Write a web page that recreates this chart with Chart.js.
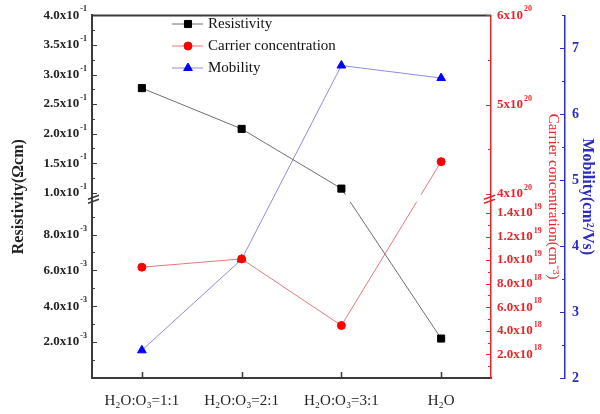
<!DOCTYPE html>
<html lang="en">
<head>
<meta charset="UTF-8">
<title>Resistivity, carrier concentration and mobility</title>
<script src="https://cdn.jsdelivr.net/npm/chart.js"></script>
<style>
  body { margin: 0; background: #fff; }
  #chart { display: block; }
</style>
</head>
<body>
<canvas id="chart" width="600" height="414"></canvas>
<script>
const categories = ['H\u2082O:O\u2083=1:1', 'H\u2082O:O\u2083=2:1', 'H\u2082O:O\u2083=3:1', 'H\u2082O'];
const resistivity = [0.277, 0.208, 0.107, 0.0022];      // Ωcm
const carrier = [9.4e18, 1.01e19, 4.45e18, 4.36e20];     // cm^-3
const mobility = [2.42, 3.80, 6.74, 6.55];               // cm^2/Vs

// tick labels as "mantissa^exponent"
const resTicks = [0.002, 0.004, 0.006, 0.008, 0.10, 0.15, 0.20, 0.25, 0.30, 0.35, 0.40];
const resTickLabels = ['2.0x10^-3', '4.0x10^-3', '6.0x10^-3', '8.0x10^-3', '1.0x10^-1', '1.5x10^-1',
  '2.0x10^-1', '2.5x10^-1', '3.0x10^-1', '3.5x10^-1', '4.0x10^-1'];
const resMinor = [0.001, 0.003, 0.005, 0.007, 0.009, 0.125, 0.175, 0.225, 0.275, 0.325, 0.375];

const carTicks = [2e18, 4e18, 6e18, 8e18, 1.0e19, 1.2e19, 1.4e19, 4e20, 5e20, 6e20];
const carTickLabels = ['2.0x10^18', '4.0x10^18', '6.0x10^18', '8.0x10^18', '1.0x10^19', '1.2x10^19',
  '1.4x10^19', '4x10^20', '5x10^20', '6x10^20'];
const carMinor = [1e18, 3e18, 5e18, 7e18, 9e18, 1.1e19, 1.3e19, 1.5e19, 4.5e20, 5.5e20];

const mobTicks = [2, 3, 4, 5, 6, 7];
const mobMinor = [2.5, 3.5, 4.5, 5.5, 6.5, 7.5];

// broken axes: each piece of the value range gets a slice (0..1) of the axis height
const resPieces = [
  { lo: 0, hi: 0.01, from: 0, to: 0.4945 },
  { lo: 0.09, hi: 0.4, from: 0.4946, to: 1 }
];
const carPieces = [
  { lo: 0, hi: 1.52e19, from: 0, to: 0.4942 },
  { lo: 3.95e20, hi: 6e20, from: 0.4959, to: 1 }
];
const breakBand = [0.486, 0.5055];

function toFrac(pieces, v) {
  for (const p of pieces) {
    if (v <= p.hi) return p.from + Math.max(0, v - p.lo) / (p.hi - p.lo) * (p.to - p.from);
  }
  return 1;
}
const resF = v => toFrac(resPieces, v);
const carF = v => toFrac(carPieces, v);

const SERIF = "'Liberation Serif', 'Times New Roman', serif";
const RED = '#e8262a';
const BLUE = '#2b2bc8';
const DARK = '#3a3a3a';

function fixedWidth(w) {
  return scale => { scale.width = w; };
}

// draws "2.0x10" with a small raised exponent; align is 'left' or 'right'
function powerLabel(ctx, text, x, y, align, color) {
  const [base, exp] = text.split('^');
  ctx.fillStyle = color;
  ctx.textBaseline = 'middle';
  ctx.textAlign = 'left';
  ctx.font = 'bold 13px ' + SERIF;
  const bw = ctx.measureText(base).width;
  ctx.font = 'bold 8px ' + SERIF;
  const ew = ctx.measureText(exp).width;
  const x0 = align === 'right' ? x - bw - ew - 1 : x;
  ctx.font = 'bold 13px ' + SERIF;
  ctx.fillText(base, x0, y);
  ctx.font = 'bold 8px ' + SERIF;
  ctx.fillText(exp, x0 + bw + 1, y - 6);
}

const axisDecor = {
  id: 'axisDecor',
  beforeDatasetDraw(chart, args) {
    if (args.index > 1) return;   // only resistivity and carrier lines are broken
    const { ctx } = chart;
    const y = chart.scales.yRes;
    const top = y.getPixelForValue(breakBand[1]);
    const bot = y.getPixelForValue(breakBand[0]);
    ctx.save();
    ctx.beginPath();
    ctx.rect(0, 0, chart.width, top);
    ctx.rect(0, bot, chart.width, chart.height - bot);
    ctx.clip();
  },
  afterDatasetDraw(chart, args) {
    if (args.index <= 1) chart.ctx.restore();
  },
  afterDraw(chart) {
    const { ctx, chartArea: a, scales } = chart;
    const tick = (scale, list, f, x, dir, len, color) => {
      ctx.strokeStyle = color;
      ctx.lineWidth = 1.2;
      ctx.beginPath();
      list.forEach(v => {
        const py = Math.round(scale.getPixelForValue(f(v))) + 0.5;
        ctx.moveTo(x, py);
        ctx.lineTo(x + dir * len, py);
      });
      ctx.stroke();
    };
    ctx.save();
    // top frame line
    ctx.strokeStyle = DARK;
    ctx.lineWidth = 2;
    ctx.beginPath();
    ctx.moveTo(a.left - 1, a.top);
    ctx.lineTo(a.right, a.top);
    ctx.stroke();

    tick(scales.yRes, resTicks, resF, a.left, 1, 5, DARK);
    tick(scales.yRes, resMinor, resF, a.left, 1, 3, DARK);
    tick(scales.yCar, carTicks, carF, a.right, -1, 5, RED);
    tick(scales.yCar, carMinor, carF, a.right, -1, 3, RED);
    const mobX = scales.yMob.left;
    tick(scales.yMob, mobTicks, v => v, mobX, -1, 5, BLUE);
    tick(scales.yMob, mobMinor, v => v, mobX, -1, 3, BLUE);

    // power-of-ten tick labels
    resTicks.forEach((v, i) => {
      powerLabel(ctx, resTickLabels[i], a.left - 5, scales.yRes.getPixelForValue(resF(v)), 'right', '#222');
    });
    carTicks.forEach((v, i) => {
      powerLabel(ctx, carTickLabels[i], a.right + 6, scales.yCar.getPixelForValue(carF(v)), 'left', RED);
    });

    // category ticks, pointing up
    ctx.strokeStyle = DARK;
    ctx.lineWidth = 1.5;
    ctx.beginPath();
    categories.forEach((c, i) => {
      const px = Math.round(scales.x.getPixelForValue(i)) + 0.5;
      ctx.moveTo(px, a.bottom);
      ctx.lineTo(px, a.bottom - 6);
    });
    ctx.stroke();

    // break marks
    const by = scales.yRes.getPixelForValue((breakBand[0] + breakBand[1]) / 2);
    const marks = (x, color) => {
      ctx.strokeStyle = color;
      ctx.lineWidth = 1.5;
      ctx.beginPath();
      ctx.moveTo(x - 5, by + 1); ctx.lineTo(x + 6, by - 3);
      ctx.moveTo(x - 5, by + 5); ctx.lineTo(x + 6, by + 1);
      ctx.stroke();
    };
    marks(a.left + 1, DARK);
    marks(a.right - 2, RED);

    // legend
    chart.data.datasets.forEach((ds, i) => {
      const ly = 24 + i * 22;
      const lx = 172;
      ctx.strokeStyle = ds.borderColor;
      ctx.lineWidth = 1;
      ctx.beginPath();
      ctx.moveTo(lx, ly);
      ctx.lineTo(lx + 31, ly);
      ctx.stroke();
      ctx.fillStyle = ds.pointBackgroundColor;
      ctx.strokeStyle = ds.pointBorderColor;
      Chart.helpers.drawPoint(ctx, {
        pointStyle: ds.pointStyle, radius: ds.pointRadius, borderWidth: 1, rotation: 0
      }, lx + 16, ly);
      ctx.font = '15px ' + SERIF;
      ctx.textBaseline = 'middle';
      ctx.textAlign = 'left';
      ctx.fillStyle = '#111';
      ctx.fillText(ds.label, 208, ly);
    });
    ctx.restore();
  }
};

const chart = new Chart(document.getElementById('chart'), {
  type: 'line',
  data: {
    labels: categories,
    datasets: [
      {
        label: 'Resistivity',
        data: resistivity.map(resF),
        yAxisID: 'yRes',
        borderColor: '#6e6e6e',
        borderWidth: 1,
        pointStyle: 'rect',
        pointRadius: 5,
        pointBackgroundColor: '#000',
        pointBorderColor: '#000',
        tension: 0
      },
      {
        label: 'Carrier concentration',
        data: carrier.map(carF),
        yAxisID: 'yCar',
        borderColor: '#e07a7a',
        borderWidth: 1,
        pointStyle: 'circle',
        pointRadius: 4,
        pointBackgroundColor: '#ff0000',
        pointBorderColor: '#ff0000',
        tension: 0
      },
      {
        label: 'Mobility',
        data: mobility,
        yAxisID: 'yMob',
        borderColor: '#8c8cdc',
        borderWidth: 1,
        pointStyle: 'triangle',
        pointRadius: 5,
        pointBackgroundColor: '#0000ff',
        pointBorderColor: '#0000ff',
        tension: 0
      }
    ]
  },
  options: {
    responsive: false,
    animation: false,
    layout: { padding: { top: 14, left: 0, right: 0, bottom: 0 } },
    plugins: { legend: { display: false }, tooltip: { enabled: false } },
    scales: {
      x: {
        offset: true,
        afterFit: s => { s.height = 36; },
        grid: { display: false, drawTicks: false },
        border: { display: true, color: DARK, width: 2 },
        ticks: { padding: 14, color: '#222', font: { family: SERIF, size: 15 } }
      },
      yRes: {
        type: 'linear',
        position: 'left',
        min: 0,
        max: 1,
        afterFit: fixedWidth(92),
        afterBuildTicks: s => { s.ticks = resTicks.map(v => ({ value: resF(v) })); },
        grid: { display: false, drawTicks: false },
        border: { display: true, color: DARK, width: 2 },
        ticks: { display: false },
        title: {
          display: true, text: 'Resistivity(Ωcm)', color: '#222',
          padding: { top: 9 },
          font: { family: SERIF, size: 16, weight: 'bold' }
        }
      },
      yCar: {
        type: 'linear',
        position: 'right',
        min: 0,
        max: 1,
        afterFit: fixedWidth(74),
        afterBuildTicks: s => { s.ticks = carTicks.map(v => ({ value: carF(v) })); },
        grid: { display: false, drawTicks: false },
        border: { display: true, color: RED, width: 1.5 },
        ticks: { display: false },
        title: {
          display: true, text: 'Carrier concentration(cm⁻³)', color: RED,
          padding: { top: 3 },
          font: { family: SERIF, size: 15 }
        }
      },
      yMob: {
        type: 'linear',
        position: 'right',
        min: 2,
        max: 7.5,
        afterFit: fixedWidth(35),
        afterBuildTicks: s => { s.ticks = mobTicks.map(v => ({ value: v })); },
        grid: { display: false, drawTicks: false },
        border: { display: true, color: BLUE, width: 1.5 },
        ticks: {
          autoSkip: false, padding: 7, color: BLUE,
          font: { family: SERIF, size: 14, weight: 'bold' }
        },
        title: {
          display: true, text: 'Mobility(cm²/Vs)', color: BLUE,
          padding: { top: 3 },
          font: { family: SERIF, size: 16, weight: 'bold' }
        }
      }
    }
  },
  plugins: [axisDecor]
});
</script>
</body>
</html>
